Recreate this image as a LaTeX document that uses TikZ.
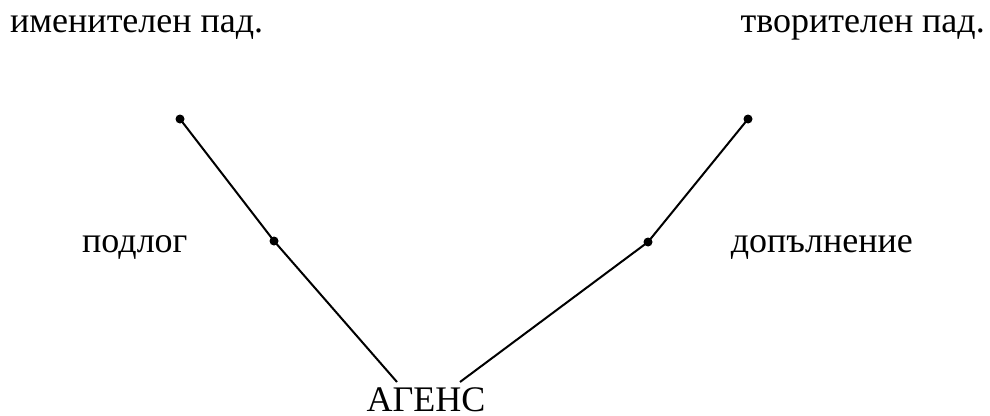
\documentclass[tikz,border=0pt]{standalone}
\usepackage{fontspec}
\setmainfont{Liberation Serif}
\begin{document}
\begin{tikzpicture}[x=1pt,y=-1pt,
  lbl/.style={inner sep=0pt,font=\fontsize{36}{40}\selectfont},
  dot/.style={circle,fill=black,inner sep=0pt,minimum size=9pt},
  ln/.style={line width=2pt}]
\useasboundingbox (0,0) rectangle (990,415);
\node[lbl,anchor=base west] (nom) at (10,32) {именителен пад.};
\node[lbl,anchor=base east] (ins) at (985,32) {творителен пад.};
\node[lbl,anchor=base west] (subj) at (82,252) {подлог};
\node[lbl,anchor=base east] (obj) at (913,252) {допълнение};
\node[lbl,anchor=base] (ag) at (426,411) {АГЕНС};
\node[dot] (l1) at (180,119) {};
\node[dot] (l2) at (274,241) {};
\node[dot] (r1) at (748,119) {};
\node[dot] (r2) at (648,242) {};
\coordinate (le) at (397,382);
\coordinate (re) at (460,382);
\draw[ln] (l1.center) -- (l2.center) -- (le);
\draw[ln] (r1.center) -- (r2.center) -- (re);
\end{tikzpicture}
\end{document}
